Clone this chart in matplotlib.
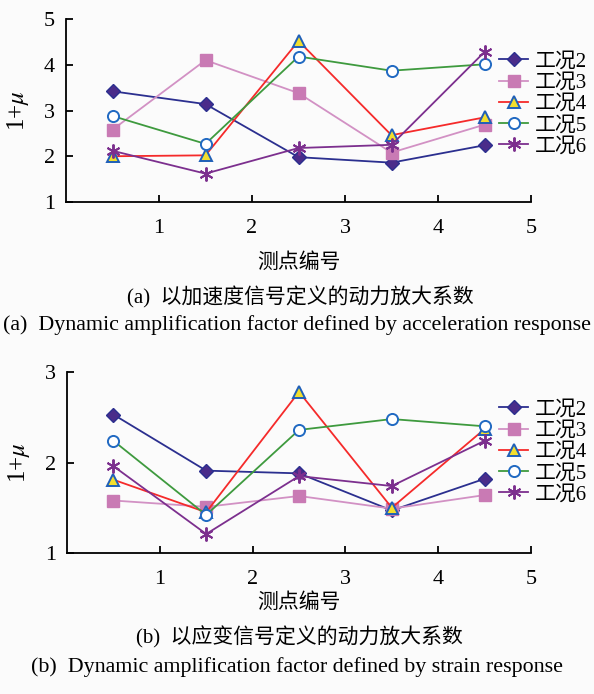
import matplotlib
matplotlib.use("Agg")
import matplotlib.pyplot as plt

plt.rcParams['font.family'] = ['Liberation Serif', 'Noto Sans CJK SC']
plt.rcParams['mathtext.fontset'] = 'stix'

points = [0.5, 1.5, 2.5, 3.5, 4.5]
series_names = ['工况2', '工况3', '工况4', '工况5', '工况6']

acc_case2 = [3.42, 3.14, 1.98, 1.86, 2.24]
acc_case3 = [2.58, 4.10, 3.38, 2.08, 2.69]
acc_case4 = [2.00, 2.02, 4.52, 2.46, 2.85]
acc_case5 = [2.88, 2.27, 4.18, 3.87, 4.01]
acc_case6 = [2.12, 1.62, 2.18, 2.25, 4.28]

str_case2 = [2.53, 1.91, 1.88, 1.47, 1.82]
str_case3 = [1.58, 1.51, 1.63, 1.49, 1.64]
str_case4 = [1.81, 1.45, 2.78, 1.50, 2.37]
str_case5 = [2.24, 1.42, 2.36, 2.48, 2.40]
str_case6 = [1.96, 1.21, 1.85, 1.74, 2.24]

xticks = [1, 2, 3, 4, 5]

styles = [
    dict(color='#2B2F8F', marker='D', mfc='#4A2C8A', mec='#2B2F8F', ms=7),
    dict(color='#D291C4', marker='s', mfc='#C97AB4', mec='#C97AB4', ms=9),
    dict(color='#F52A2A', marker='^', mfc='#F2DE2E', mec='#1F5FB8', ms=9, mew=1.4),
    dict(color='#3E9A3E', marker='o', mfc='white', mec='#2069C2', ms=8, mew=1.4),
    dict(color='#7C2F8E', marker=(6, 2, 0), mfc='#7C2F8E', mec='#7C2F8E', ms=10, mew=1.4),
]

fig = plt.figure(figsize=(5.94, 6.94), dpi=100, facecolor='#FBFBFB')
W, H = 594, 694

def make_axes(l, t, r, b):
    return fig.add_axes([l / W, 1 - b / H, (r - l) / W, (b - t) / H])

ax1 = make_axes(66, 19, 531, 202)
ax2 = make_axes(67, 372, 531, 553)

def draw(ax, data, ylim, yticks, leg_top):
    ax.set_facecolor('none')
    for vals, st, name in zip(data, styles, series_names):
        ax.plot(points, vals, lw=1.3, label=name, **st)
    ax.set_xlim(0, 5)
    ax.set_ylim(*ylim)
    ax.set_xticks(xticks)
    ax.set_yticks(yticks)
    for s in ['top', 'right']:
        ax.spines[s].set_visible(False)
    for s in ['left', 'bottom']:
        ax.spines[s].set_linewidth(1.3)
    ax.tick_params(direction='in', length=5, width=1.3, labelsize=16)
    ax.tick_params(axis='x', pad=12)
    ax.tick_params(axis='y', pad=8)
    ax.set_ylabel(r'1+$\mu$', fontsize=18)
    ax.yaxis.set_label_coords(-35 / (531 - 66), 0.5)
    leg = ax.legend(loc='upper left', bbox_to_anchor=(499 / W, 1 - leg_top / H),
                    bbox_transform=fig.transFigure, frameon=False,
                    fontsize=15, handlelength=1.4, handletextpad=0.3,
                    labelspacing=0.08, borderaxespad=0, borderpad=0)
    return leg

draw(ax1, [acc_case2, acc_case3, acc_case4, acc_case5, acc_case6], (1, 5), [1, 2, 3, 4, 5], 52)
draw(ax2, [str_case2, str_case3, str_case4, str_case5, str_case6], (1, 3), [1, 2, 3], 400)

def ftext(x, y, s, size):
    fig.text(x / W, 1 - y / H, s, ha='center', va='center', fontsize=size)

ftext(299, 263, '测点编号', 15)
ftext(300, 297, '(a)  以加速度信号定义的动力放大系数', 15)
ftext(297, 325, '(a)  Dynamic amplification factor defined by acceleration response', 15.8)
ftext(299, 603, '测点编号', 15)
ftext(299, 637, '(b)  以应变信号定义的动力放大系数', 15)
ftext(297, 667, '(b)  Dynamic amplification factor defined by strain response', 15.8)

fig.savefig('out.png', dpi=100, facecolor=fig.get_facecolor())
